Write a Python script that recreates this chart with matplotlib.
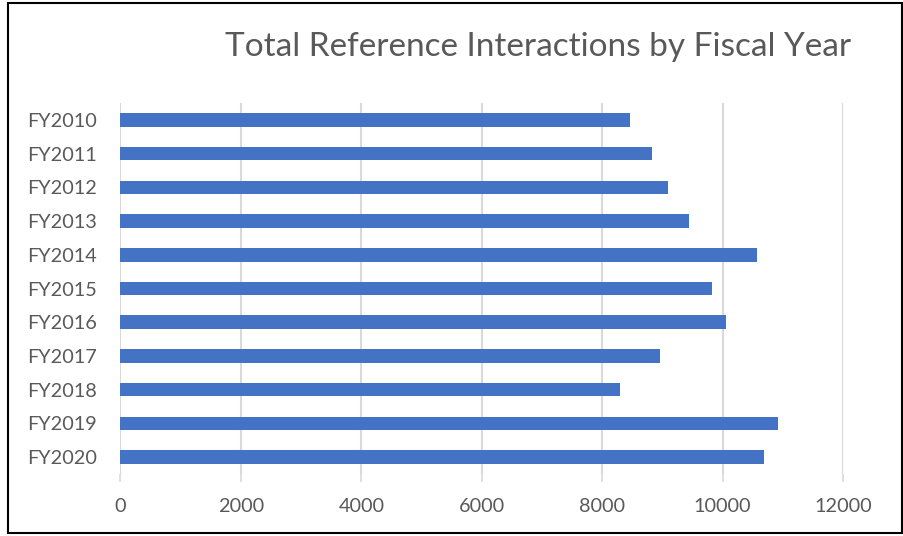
import matplotlib
matplotlib.use("Agg")
import matplotlib.pyplot as plt
from matplotlib.patches import Rectangle

categories = ["FY2010", "FY2011", "FY2012", "FY2013", "FY2014", "FY2015",
              "FY2016", "FY2017", "FY2018", "FY2019", "FY2020"]
values = [8470, 8825, 9095, 9440, 10570, 9820, 10055, 8965, 8300, 10915, 10695]
x_ticks = [0, 2000, 4000, 6000, 8000, 10000, 12000]
title = "Total Reference Interactions by Fiscal Year"

plt.rcParams['font.family'] = ['Lato', 'DejaVu Sans']
W, H = 904, 536
fig = plt.figure(figsize=(W / 100, H / 100), dpi=100)
fig.patch.set_facecolor("white")

ax = fig.add_axes([120.5 / W, 1 - 474 / H, (843 - 120.5) / W, (474 - 103) / H])
ypos = list(range(len(categories)))
ax.barh(ypos, values, height=0.4, color="#4472C4", zorder=3)
ax.set_ylim(len(categories) - 0.5, -0.5)
ax.set_xlim(0, 12000)
ax.set_xticks(x_ticks)
ax.set_xticklabels([str(t) for t in x_ticks])
ax.set_yticks(ypos)
ax.set_yticklabels(categories)
ax.grid(axis="x", color="#D9D9D9", linewidth=1.5, zorder=0)
for s in ax.spines.values():
    s.set_visible(False)
ax.tick_params(axis="x", length=6, color="#D9D9D9", width=1.2, pad=11,
               labelsize=14.3, labelcolor="#595959")
ax.tick_params(axis="y", length=0, pad=17, labelsize=14.3, labelcolor="#595959")

fig.text(538 / W, 1 - 47 / H, title, ha="center", va="center",
         fontsize=24, color="#595959")

fig.patches.append(Rectangle((8 / W, 3 / H), (902 - 8) / W, (533 - 3) / H,
                             transform=fig.transFigure, fill=False,
                             edgecolor="black", linewidth=1.5))

fig.savefig("out.png", dpi=100)
